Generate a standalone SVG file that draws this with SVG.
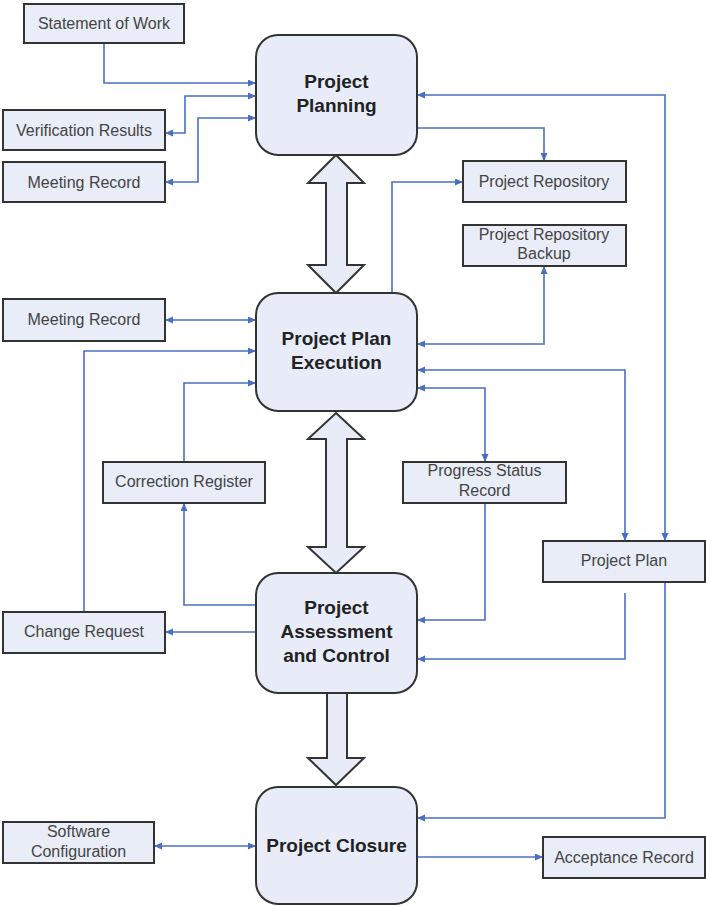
<svg xmlns="http://www.w3.org/2000/svg" width="706" height="906" viewBox="0 0 706 906">
<style>
.main{fill:#e7ecf8;stroke:#333;stroke-width:2}
.box{fill:#e8edf8;stroke:#333;stroke-width:2}
.blk{fill:#e7ecf8;stroke:#333;stroke-width:2;stroke-linejoin:miter}
.mt{font-family:"Liberation Sans",Arial,sans-serif;font-weight:bold;font-size:19px;fill:#222;text-anchor:middle}
.st{font-family:"Liberation Sans",Arial,sans-serif;font-size:16px;fill:#444;text-anchor:middle}
.c{fill:none;stroke:#4a6fc2;stroke-width:1.6}
</style>
<defs>
<marker id="ah" markerUnits="userSpaceOnUse" markerWidth="10" markerHeight="8" refX="8" refY="3.5" orient="auto-start-reverse">
<path d="M0,0 L8,3.5 L0,7 z" fill="#4a6fc2"/>
</marker>
</defs>
<rect width="706" height="906" fill="#fff"/>

<g id="connectors">
<path class="c" d="M104,43 V83 H256" marker-end="url(#ah)"/>
<path class="c" d="M256,96 H185 V133 H165" marker-start="url(#ah)" marker-end="url(#ah)"/>
<path class="c" d="M256,118 H198 V182 H165" marker-start="url(#ah)" marker-end="url(#ah)"/>
<path class="c" d="M417,95 H665 V541" marker-start="url(#ah)" marker-end="url(#ah)"/>
<path class="c" d="M417,128 H544 V161" marker-end="url(#ah)"/>
<path class="c" d="M392,293 V182 H463" marker-end="url(#ah)"/>
<path class="c" d="M544,266 V344 H417" marker-start="url(#ah)" marker-end="url(#ah)"/>
<path class="c" d="M417,370 H625 V541" marker-start="url(#ah)" marker-end="url(#ah)"/>
<path class="c" d="M417,388 H485 V462" marker-start="url(#ah)" marker-end="url(#ah)"/>
<path class="c" d="M485,503 V620 H417" marker-end="url(#ah)"/>
<path class="c" d="M625,593 V659 H417" marker-end="url(#ah)"/>
<path class="c" d="M665,582 V818 H417" marker-end="url(#ah)"/>
<path class="c" d="M417,857 H543" marker-end="url(#ah)"/>
<path class="c" d="M154,846 H256" marker-start="url(#ah)" marker-end="url(#ah)"/>
<path class="c" d="M165,320 H256" marker-start="url(#ah)" marker-end="url(#ah)"/>
<path class="c" d="M84,612 V351 H256" marker-end="url(#ah)"/>
<path class="c" d="M184,462 V383 H256" marker-end="url(#ah)"/>
<path class="c" d="M256,605 H184 V503" marker-end="url(#ah)"/>
<path class="c" d="M256,632 H165" marker-end="url(#ah)"/>
<path class="blk" d="M336,155 L364,183 L347,183 L347,265 L364,265 L336,293 L308,265 L326,265 L326,183 L308,183 Z"/>
<path class="blk" d="M336,413 L364,439 L347,439 L347,547 L364,547 L336,573 L308,547 L326,547 L326,439 L308,439 Z"/>
<path class="blk" d="M327,693 L347,693 L347,758 L364,758 L336,785 L308,758 L327,758 Z"/>
</g>

<g id="project-planning">
<rect class="main" x="256" y="35" width="161" height="120" rx="22"/>
<text class="mt" x="336.5" y="88">Project</text>
<text class="mt" x="336.5" y="112">Planning</text>
</g>
<g id="project-plan-execution">
<rect class="main" x="256" y="293" width="161" height="118" rx="22"/>
<text class="mt" x="336.5" y="345">Project Plan</text>
<text class="mt" x="336.5" y="369">Execution</text>
</g>
<g id="project-assessment">
<rect class="main" x="256" y="573" width="161" height="120" rx="22"/>
<text class="mt" x="336.5" y="614">Project</text>
<text class="mt" x="336.5" y="638">Assessment</text>
<text class="mt" x="336.5" y="662">and Control</text>
</g>
<g id="project-closure">
<rect class="main" x="256" y="787" width="161" height="117" rx="22"/>
<text class="mt" x="336.5" y="852">Project Closure</text>
</g>

<g id="statement-of-work">
<rect class="box" x="24" y="4" width="160" height="39"/>
<text class="st" x="104" y="29">Statement of Work</text>
</g>
<g id="verification-results">
<rect class="box" x="3" y="110" width="162" height="40"/>
<text class="st" x="84" y="136">Verification Results</text>
</g>
<g id="meeting-record-1">
<rect class="box" x="3" y="162" width="162" height="40"/>
<text class="st" x="84" y="188">Meeting Record</text>
</g>
<g id="project-repository">
<rect class="box" x="463" y="161" width="163" height="41"/>
<text class="st" x="544" y="187">Project Repository</text>
</g>
<g id="project-repository-backup">
<rect class="box" x="463" y="225" width="163" height="41"/>
<text class="st" x="544" y="240">Project Repository</text>
<text class="st" x="544" y="259">Backup</text>
</g>
<g id="meeting-record-2">
<rect class="box" x="3" y="299" width="162" height="42"/>
<text class="st" x="84" y="325">Meeting Record</text>
</g>
<g id="correction-register">
<rect class="box" x="103" y="462" width="162" height="41"/>
<text class="st" x="184" y="487">Correction Register</text>
</g>
<g id="progress-status-record">
<rect class="box" x="403" y="462" width="163" height="41"/>
<text class="st" x="484.5" y="476">Progress Status</text>
<text class="st" x="484.5" y="496">Record</text>
</g>
<g id="project-plan">
<rect class="box" x="543" y="541" width="162" height="41"/>
<text class="st" x="624" y="566">Project Plan</text>
</g>
<g id="change-request">
<rect class="box" x="3" y="612" width="162" height="41"/>
<text class="st" x="84" y="637">Change Request</text>
</g>
<g id="software-configuration">
<rect class="box" x="3" y="822" width="151" height="41"/>
<text class="st" x="78.5" y="837">Software</text>
<text class="st" x="78.5" y="857">Configuration</text>
</g>
<g id="acceptance-record">
<rect class="box" x="543" y="837" width="162" height="41"/>
<text class="st" x="624" y="863">Acceptance Record</text>
</g>
</svg>
